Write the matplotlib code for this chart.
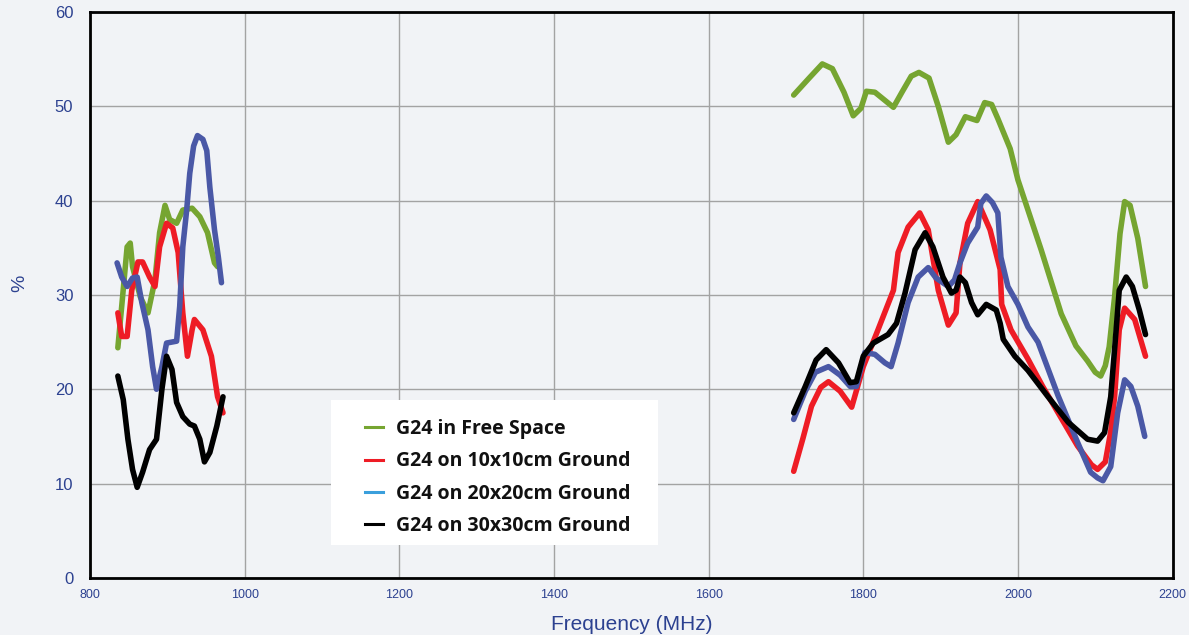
import matplotlib
matplotlib.use("Agg")
import matplotlib.pyplot as plt
from matplotlib.lines import Line2D
from matplotlib.patches import Rectangle

# efficiency curves, (MHz, %)
free_lo_f = [836, 841, 848, 852, 855, 865, 875, 884, 890, 897, 903, 912, 920, 932, 942, 952, 961, 965]
free_lo_v = [24.4, 28.8, 35.1, 35.5, 33.0, 29.8, 28.1, 31.6, 36.6, 39.5, 38.0, 37.6, 39.0, 39.2, 38.3, 36.6, 33.4, 33.0]
free_hi_f = [1710, 1730, 1747, 1760, 1775, 1787, 1797, 1804, 1815, 1830, 1839, 1850, 1862, 1872, 1885, 1897,
             1910, 1920, 1932, 1947, 1957, 1966, 1974, 1990, 2000, 2013, 2030, 2056, 2075, 2090, 2100, 2107,
             2113, 2118, 2125, 2132, 2138, 2145, 2155, 2165]
free_hi_v = [51.2, 53.0, 54.5, 54.0, 51.5, 49.0, 49.8, 51.6, 51.5, 50.5, 49.9, 51.5, 53.2, 53.6, 53.0, 50.0,
             46.2, 47.0, 48.9, 48.5, 50.4, 50.2, 48.7, 45.5, 42.2, 39.0, 34.8, 28.0, 24.6, 23.0, 21.8, 21.4,
             22.5, 24.5, 29.8, 36.5, 39.9, 39.5, 36.0, 30.9]

g10_lo_f = [836, 841, 848, 854, 862, 868, 877, 884, 890, 899, 907, 914, 920, 926, 932, 935, 946, 957, 965, 972]
g10_lo_v = [28.1, 25.6, 25.6, 30.5, 33.5, 33.5, 31.9, 30.9, 35.1, 37.6, 37.1, 34.5, 28.1, 23.5, 26.3, 27.4,
            26.3, 23.5, 19.2, 17.5]
g10_hi_f = [1710, 1722, 1733, 1745, 1755, 1770, 1785, 1800, 1819, 1839, 1845, 1858, 1873, 1884, 1897, 1910,
            1920, 1925, 1935, 1948, 1964, 1977, 1979, 1991, 2013, 2032, 2052, 2077, 2095, 2103, 2113, 2120,
            2125, 2131, 2138, 2151, 2165]
g10_hi_v = [11.3, 14.8, 18.2, 20.2, 20.8, 19.8, 18.1, 22.4, 26.3, 30.5, 34.5, 37.2, 38.7, 36.9, 30.5, 26.8,
            28.1, 33.4, 37.6, 39.9, 36.9, 32.7, 29.0, 26.3, 23.2, 20.3, 17.5, 14.0, 12.0, 11.5, 12.3, 15.5,
            19.2, 26.3, 28.6, 27.4, 23.5]

g20_lo_f = [835, 841, 848, 855, 861, 867, 875, 881, 886, 893, 899, 912, 916, 920, 925, 929, 934, 939, 946,
            951, 955, 961, 966, 970]
g20_lo_v = [33.4, 31.9, 30.9, 31.8, 31.9, 29.2, 26.3, 22.4, 20.0, 22.4, 24.9, 25.1, 28.8, 35.1, 39.0, 42.9,
            45.8, 46.9, 46.5, 45.3, 41.4, 36.9, 34.0, 31.3]
g20_hi_f = [1710, 1725, 1738, 1755, 1770, 1783, 1791, 1802, 1815, 1828, 1836, 1845, 1858, 1871, 1884, 1894,
            1910, 1918, 1925, 1935, 1948, 1952, 1959, 1967, 1974, 1978, 1987, 2000, 2013, 2026, 2052, 2077,
            2094, 2103, 2110, 2120, 2129, 2138, 2146, 2155, 2164]
g20_hi_v = [16.8, 19.8, 21.8, 22.4, 21.5, 20.3, 20.3, 23.9, 23.7, 22.8, 22.4, 24.9, 29.2, 31.9, 32.9, 31.8,
            30.9, 31.6, 33.4, 35.5, 37.2, 39.7, 40.5, 39.8, 38.7, 34.0, 30.9, 29.0, 26.6, 25.0, 19.3, 14.4,
            11.2, 10.6, 10.3, 11.8, 17.5, 21.0, 20.3, 18.2, 15.0]

g30_lo_f = [836, 843, 849, 855, 861, 868, 877, 886, 893, 899, 906, 912, 920, 929, 935, 942, 948, 955, 964, 972]
g30_lo_v = [21.4, 18.9, 14.7, 11.5, 9.6, 11.2, 13.6, 14.7, 20.0, 23.5, 22.1, 18.6, 17.1, 16.3, 16.1, 14.7,
            12.3, 13.3, 16.1, 19.2]
g30_hi_f = [1710, 1725, 1739, 1752, 1768, 1783, 1791, 1800, 1813, 1832, 1843, 1854, 1867, 1880, 1890, 1903,
            1914, 1920, 1925, 1932, 1940, 1948, 1959, 1972, 1977, 1981, 1996, 2013, 2039, 2065, 2090, 2103,
            2112, 2120, 2127, 2131, 2140, 2148, 2157, 2165]
g30_hi_v = [17.5, 20.3, 23.1, 24.2, 22.8, 20.7, 20.8, 23.5, 24.9, 25.8, 27.0, 30.2, 34.8, 36.6, 35.1, 31.9,
            30.2, 30.5, 31.9, 31.3, 29.2, 27.9, 29.0, 28.4, 27.0, 25.3, 23.5, 22.0, 19.2, 16.5, 14.7, 14.5,
            15.4, 19.2, 26.3, 30.5, 31.9, 30.9, 28.4, 25.8]

labels = ["G24 in Free Space", "G24 on 10x10cm Ground", "G24 on 20x20cm Ground", "G24 on 30x30cm Ground"]
line_colors = ["#76a531", "#ee1c25", "#4a58a6", "#000000"]
legend_colors = ["#76a531", "#ee1c25", "#3a9fdc", "#000000"]

bg = "#f1f3f6"
tick_col = "#2c4190"
plt.rcParams["font.family"] = ["Liberation Sans", "DejaVu Sans"]

fig = plt.figure(figsize=(11.89, 6.35), dpi=100, facecolor=bg)
ax = fig.add_axes([0.0757, 0.090, 0.9105, 0.891], facecolor=bg)

series = [(free_lo_f, free_lo_v, free_hi_f, free_hi_v),
          (g10_lo_f, g10_lo_v, g10_hi_f, g10_hi_v),
          (g20_lo_f, g20_lo_v, g20_hi_f, g20_hi_v),
          (g30_lo_f, g30_lo_v, g30_hi_f, g30_hi_v)]
for (lf, lv, hf, hv), c in zip(series, line_colors):
    for f, v in ((lf, lv), (hf, hv)):
        ax.plot(f, v, color=c, lw=4.0, solid_capstyle="round", solid_joinstyle="round", zorder=3)

ax.set_xlim(800, 2200)
ax.set_ylim(0, 60)
ax.set_xticks(range(800, 2201, 200))
ax.set_yticks(range(0, 61, 10))
ax.grid(True, color="#a3a3a3", lw=1.0, zorder=1)
ax.set_axisbelow(True)
for s in ax.spines.values():
    s.set_color("black")
    s.set_linewidth(2.0)
ax.tick_params(length=0)
ax.tick_params(axis="y", pad=12, labelsize=12, labelcolor=tick_col)
ax.tick_params(axis="x", pad=8, labelsize=9, labelcolor=tick_col)

ax.set_xlabel("Frequency (MHz)", fontsize=15, color=tick_col, labelpad=10)
ax.set_ylabel("%", fontsize=14, color=tick_col)
ax.yaxis.set_label_coords(-0.057, 0.52)

# white legend panel
ax.add_patch(Rectangle((0.223, 0.058), 0.302, 0.257, transform=ax.transAxes,
                       facecolor="white", edgecolor="none", zorder=4))
handles = [Line2D([], [], color=c, lw=2.2) for c in legend_colors]
leg = ax.legend(handles, labels, loc="upper left", bbox_to_anchor=(0.254, 0.281),
                frameon=False, handlelength=0.95, handletextpad=0.62, labelspacing=0.64,
                borderpad=0, borderaxespad=0,
                prop={"family": "Open Sans", "weight": "bold", "size": 14})
leg.set_zorder(5)
for txt in leg.get_texts():
    txt.set_color("#111111")

fig.savefig("out.png", dpi=100, facecolor=bg)
